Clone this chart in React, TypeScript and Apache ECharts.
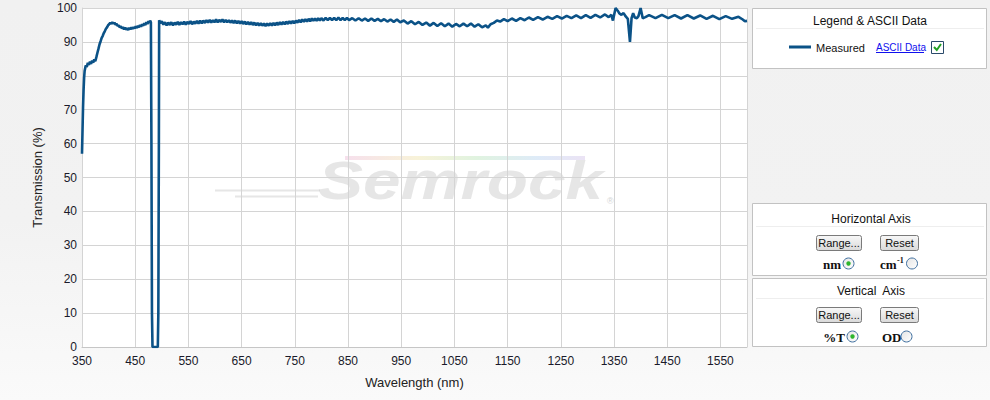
import React, { useEffect, useRef } from "react";
import * as echarts from "echarts";

// Measured transmission (%) vs wavelength (nm)
const blueEdge: [number, number][] = [
  [350, 57], [351, 64], [352, 71], [353, 76], [354, 79.5], [355, 81.5],
  [357, 83], [359, 82.6], [361, 83.8], [363, 83.2], [365, 84.2], [367, 83.5], [369, 84.5], [371, 83.9], [373, 84.8], [375, 84.3],
  [377, 85.5], [379, 86.8], [381, 88], [383, 89.3], [385, 90.2], [387, 91.2], [389, 91.8], [391, 92.6], [393, 93.2], [395, 93.9],
  [397, 94.3], [399, 94.9], [401, 95.2], [403, 95.6], [405, 95.3], [407, 95.8], [409, 95.4], [411, 95.7], [413, 95.1], [415, 95.3],
  [417, 94.7], [419, 94.9], [421, 94.3], [423, 94.6], [425, 94], [427, 94.4], [429, 93.7], [431, 94.2], [433, 93.6], [435, 94.1],
  [437, 93.5], [439, 94.2], [441, 93.7], [443, 94.3], [445, 93.8], [447, 94.4], [449, 94], [451, 94.6], [453, 94.1], [455, 94.7],
  [457, 94.3], [459, 95], [461, 94.5], [463, 95.2], [465, 94.8], [467, 95.5], [469, 95], [471, 95.8], [473, 95.3], [475, 96.1],
  [477, 95.6], [478, 96.3], [479.5, 95.8],
];

const notch: [number, number][] = [
  [480.5, 60], [481.5, 10], [482.5, 0], [492.5, 0], [493.5, 10], [494.5, 60], [495, 96.4],
];

const visibleBand: [number, number][] = [
  [497, 95.5], [500, 96.1], [503, 95.1], [506, 95.8], [509, 94.9], [512, 95.7], [515, 95.0], [518, 95.8], [521, 94.9], [524, 95.7],
  [527, 95.1], [530, 95.9], [533, 95.0], [536, 95.8], [539, 95.2], [542, 96.0], [545, 95.1], [548, 95.9], [551, 95.3], [554, 96.1],
  [557, 95.2], [560, 96.0], [563, 95.4], [566, 96.2], [569, 95.4], [572, 96.3], [575, 95.5], [578, 96.3], [581, 95.6], [584, 96.4],
  [587, 95.7], [590, 96.5], [593, 95.7], [596, 96.4], [599, 95.8], [602, 96.6], [605, 95.8], [608, 96.5], [611, 95.9], [614, 96.6],
  [617, 95.8], [620, 96.5], [623, 95.8], [626, 96.4], [629, 95.7], [632, 96.3], [635, 95.6], [638, 96.3], [641, 95.5], [644, 96.2],
  [647, 95.4], [650, 96.1], [653, 95.3], [656, 96.0], [659, 95.2], [662, 95.9], [665, 95.1], [668, 95.8], [671, 95.0], [674, 95.7],
  [677, 94.9], [680, 95.6], [683, 94.8], [686, 95.5], [689, 94.8], [692, 95.4], [695, 94.7], [698, 95.4], [701, 94.8], [704, 95.5],
  [707, 94.8], [710, 95.6], [713, 94.9], [716, 95.7], [719, 95.0], [722, 95.8], [725, 95.1], [728, 95.9], [731, 95.2], [734, 96.0],
  [737, 95.3], [740, 96.1], [743, 95.4], [746, 96.2], [749, 95.5], [752, 96.3], [755, 95.7], [758, 96.5], [761, 95.8], [764, 96.6],
  [767, 95.9], [770, 96.7], [773, 96.0], [776, 96.8], [779, 96.1], [782, 96.9], [785, 96.2], [788, 96.9], [791, 96.2], [794, 97.0],
  [797, 96.3], [800, 97.0], [804, 96.3], [808, 97.1], [812, 96.4], [816, 97.1], [820, 96.4], [824, 97.1], [828, 96.4], [832, 97.2],
  [836, 96.4], [840, 97.1], [844, 96.4], [848, 97.1],
];

const rippleBand: [number, number][] = [
  [852, 96.4], [858, 97.0], [864, 96.3], [870, 97.0], [876, 96.3], [882, 96.9], [888, 96.2], [894, 96.9], [900, 96.2], [906, 96.8],
  [912, 96.1], [918, 96.7], [924, 96.0], [930, 96.6], [936, 95.9], [942, 96.6], [948, 95.8], [955, 96.3], [962, 95.4], [969, 96.1],
  [976, 95.2], [983, 95.9], [990, 95.0], [997, 95.7], [1004, 94.8], [1011, 95.6], [1018, 94.7], [1025, 95.5], [1032, 94.6], [1039, 95.4],
  [1046, 94.5], [1053, 95.3], [1060, 94.6], [1067, 95.4], [1074, 94.6], [1081, 95.4], [1088, 94.5], [1095, 95.2], [1102, 94.3], [1109, 94.9],
  [1113, 94.2], [1118, 95.2], [1124, 95.6], [1130, 96.3], [1136, 96.0], [1143, 96.7], [1150, 96.1], [1158, 96.9], [1166, 96.2], [1174, 97.0],
  [1182, 96.4], [1190, 97.2], [1198, 96.5], [1207, 97.3], [1216, 96.6], [1225, 97.4], [1234, 96.8], [1243, 97.6], [1252, 96.9], [1261, 97.7],
  [1270, 97.0], [1279, 97.8], [1288, 97.0], [1297, 97.9], [1306, 97.1], [1315, 98.0], [1324, 97.2], [1333, 98.1], [1340, 97.3],
];

const nirBand: [number, number][] = [
  [1345, 98.0], [1348, 96.3], [1353, 100], [1357, 99.2], [1360, 98.4], [1364, 98.0], [1368, 98.5], [1372, 97.5], [1376, 96.8],
  [1380, 90.0], [1383, 97.0], [1386, 98.5], [1389, 97.2], [1393, 97.0], [1396, 97.6], [1400, 100], [1404, 97.0], [1409, 97.3],
  [1416, 97.9], [1428, 97.0], [1440, 98.0], [1452, 97.0], [1464, 97.9], [1476, 96.9], [1488, 97.9], [1500, 96.9], [1512, 97.8],
  [1524, 96.8], [1536, 97.7], [1548, 96.7], [1560, 97.6], [1572, 96.8], [1584, 97.4], [1592, 96.6], [1596, 96.1], [1600, 96.2],
];

const seriesName = "Measured";
const xAxisTitle = "Wavelength (nm)";
const yAxisTitle = "Transmission (%)";

const LINE_COLOR = "#0b5287";
const FONT = "'Liberation Sans', Arial, sans-serif";
const SERIF = "'Liberation Serif', 'Times New Roman', serif";

const btnFill = {
  type: "linear", x: 0, y: 0, x2: 0, y2: 1,
  colorStops: [{ offset: 0, color: "#f8f8f8" }, { offset: 1, color: "#d9d9d9" }],
};
const radioFill = {
  type: "linear", x: 0, y: 0, x2: 1, y2: 1,
  colorStops: [{ offset: 0, color: "#e4e4e4" }, { offset: 1, color: "#ffffff" }],
};

function button(x: number, y: number, w: number, label: string) {
  return [
    { type: "rect", shape: { x: x + 0.5, y: y + 0.5, width: w, height: 15, r: 2 }, style: { fill: btnFill, stroke: "#7a7a7a", lineWidth: 1 } },
    { type: "text", x: x + w / 2 + 0.5, y: y + 8, style: { text: label, fontSize: 11, fontFamily: FONT, fill: "#111", align: "center", verticalAlign: "middle" } },
  ];
}

function radio(cx: number, cy: number, checked: boolean) {
  const els: any[] = [
    { type: "circle", shape: { cx, cy, r: 5.5 }, style: { fill: radioFill, stroke: "#3f6f9f", lineWidth: 1 } },
  ];
  if (checked) els.push({ type: "circle", shape: { cx, cy, r: 2.2 }, style: { fill: "#2db52d" } });
  return els;
}

function panel(y: number, h: number) {
  return { type: "rect", shape: { x: 752.5, y: y + 0.5, width: 234, height: h }, style: { fill: "#ffffff", stroke: "#c2c2c2", lineWidth: 1 } };
}

function separator(y: number) {
  return { type: "line", shape: { x1: 756, y1: y + 0.5, x2: 984, y2: y + 0.5 }, style: { stroke: "#eeeeee", lineWidth: 1 } };
}

export default function App() {
  const ref = useRef<HTMLDivElement>(null);

  useEffect(() => {
    document.body.style.margin = "0";
    if (!ref.current) return;
    const chart = echarts.init(ref.current, undefined, { renderer: "svg" });

    const data = [...blueEdge, ...notch, ...visibleBand, ...rippleBand, ...nirBand];

    const graphics: any[] = [
      // watermark
      {
        type: "rect", shape: { x: 345, y: 156, width: 240, height: 4 },
        style: {
          fill: {
            type: "linear", x: 0, y: 0, x2: 1, y2: 0,
            colorStops: [
              { offset: 0, color: "#f4d8e8" }, { offset: 0.3, color: "#f6efcf" },
              { offset: 0.55, color: "#d8f0d8" }, { offset: 0.8, color: "#d6e6f6" }, { offset: 1, color: "#e6dcf2" },
            ],
          },
          opacity: 0.8,
        },
      },
      { type: "line", shape: { x1: 215, y1: 190.5, x2: 320, y2: 190.5 }, style: { stroke: "#d6d6d6", lineWidth: 2, opacity: 0.6 } },
      { type: "line", shape: { x1: 235, y1: 196.5, x2: 318, y2: 196.5 }, style: { stroke: "#d6d6d6", lineWidth: 2, opacity: 0.6 } },
      {
        type: "text", x: 318, y: 180, scaleX: 1.25,
        style: { text: "Semrock", fontSize: 54, fontWeight: "bold", fontStyle: "italic", fontFamily: FONT, fill: "#c8c8c8", opacity: 0.45, verticalAlign: "middle" },
      },
      { type: "text", x: 607, y: 196, style: { text: "®", fontSize: 9, fontFamily: FONT, fill: "#d4d4d4" } },

      // Legend panel
      panel(8, 60),
      { type: "text", x: 870, y: 21, style: { text: "Legend & ASCII Data", fontSize: 12, fontFamily: FONT, fill: "#111", align: "center", verticalAlign: "middle" } },
      separator(28),
      { type: "line", shape: { x1: 789, y1: 47, x2: 811, y2: 47 }, style: { stroke: LINE_COLOR, lineWidth: 3 } },
      { type: "text", x: 816, y: 48, style: { text: seriesName, fontSize: 11, fontFamily: FONT, fill: "#111", verticalAlign: "middle" } },
      { type: "text", x: 876, y: 47, style: { text: "ASCII Data", fontSize: 10, fontFamily: FONT, fill: "#1010ee", verticalAlign: "middle" } },
      { type: "line", shape: { x1: 876, y1: 52.5, x2: 924, y2: 52.5 }, style: { stroke: "#1010ee", lineWidth: 1 } },
      { type: "rect", shape: { x: 931.5, y: 41.5, width: 12, height: 12 }, style: { fill: "#ffffff", stroke: "#2a4a6a", lineWidth: 1 } },
      { type: "polyline", shape: { points: [[934, 47], [936.8, 50], [941, 44]] }, style: { stroke: "#22a022", lineWidth: 2, fill: null } },

      // Horizontal axis panel
      panel(203, 72),
      { type: "text", x: 871, y: 219, style: { text: "Horizontal Axis", fontSize: 12, fontFamily: FONT, fill: "#111", align: "center", verticalAlign: "middle" } },
      separator(226),
      ...button(816, 235, 45, "Range..."),
      ...button(880, 235, 38, "Reset"),
      { type: "text", x: 841, y: 264, style: { text: "nm", fontSize: 13, fontWeight: "bold", fontFamily: SERIF, fill: "#111", align: "right", verticalAlign: "middle" } },
      ...radio(848.5, 263.5, true),
      { type: "text", x: 880, y: 264, style: { text: "cm", fontSize: 13, fontWeight: "bold", fontFamily: SERIF, fill: "#111", verticalAlign: "middle" } },
      { type: "text", x: 897, y: 260.5, style: { text: "-1", fontSize: 8, fontWeight: "bold", fontFamily: SERIF, fill: "#111", verticalAlign: "middle" } },
      ...radio(912, 263.5, false),

      // Vertical axis panel
      panel(278, 68),
      { type: "text", x: 871, y: 291, style: { text: "Vertical  Axis", fontSize: 12, fontFamily: FONT, fill: "#111", align: "center", verticalAlign: "middle" } },
      separator(298),
      ...button(816, 307, 45, "Range..."),
      ...button(880, 307, 38, "Reset"),
      { type: "text", x: 845, y: 337, style: { text: "%T", fontSize: 13, fontWeight: "bold", fontFamily: SERIF, fill: "#111", align: "right", verticalAlign: "middle" } },
      ...radio(852.5, 336.5, true),
      { type: "text", x: 882, y: 337, style: { text: "OD", fontSize: 13, fontWeight: "bold", fontFamily: SERIF, fill: "#111", verticalAlign: "middle" } },
      ...radio(906.5, 336.5, false),
    ];

    chart.setOption({
      animation: false,
      backgroundColor: "transparent",
      grid: { left: 82, right: 243, top: 8, bottom: 53, show: true, backgroundColor: "#ffffff", borderWidth: 0 },
      xAxis: {
        type: "value", min: 350, max: 1600, interval: 100,
        name: xAxisTitle, nameLocation: "middle", nameGap: 29,
        nameTextStyle: { fontSize: 13, fontFamily: FONT, color: "#222" },
        axisLine: { show: true, lineStyle: { color: "#c6c6c6", width: 1 } },
        axisTick: { show: false },
        axisLabel: { fontSize: 12, fontFamily: FONT, color: "#1a1a2a", margin: 8, showMaxLabel: false, formatter: (v: number) => String(v) },
        splitLine: { show: true, lineStyle: { color: "#d4d4d4", width: 1 } },
      },
      yAxis: {
        type: "value", min: 0, max: 100, interval: 10,
        name: yAxisTitle, nameLocation: "middle", nameGap: 38,
        nameTextStyle: { fontSize: 13, fontFamily: FONT, color: "#222" },
        axisLine: { show: true, lineStyle: { color: "#d4d4d4", width: 1 } },
        axisTick: { show: false },
        axisLabel: { fontSize: 12, fontFamily: FONT, color: "#1a1a2a", margin: 5, formatter: (v: number) => String(v) },
        splitLine: { show: true, lineStyle: { color: "#d4d4d4", width: 1 } },
      },
      series: [
        {
          name: seriesName, type: "line", data, showSymbol: false, smooth: false,
          lineStyle: { color: LINE_COLOR, width: 2.6 }, itemStyle: { color: LINE_COLOR }, z: 5,
        },
      ],
      graphic: { elements: graphics },
    });

    return () => chart.dispose();
  }, []);

  return (
    <div
      style={{
        position: "fixed", left: 0, top: 0, width: 990, height: 400,
        background: "linear-gradient(to bottom, #f1f1f1 0%, #f2f2f2 55%, #fafafa 100%)",
      }}
    >
      <div ref={ref} style={{ width: 990, height: 400 }} />
    </div>
  );
}
